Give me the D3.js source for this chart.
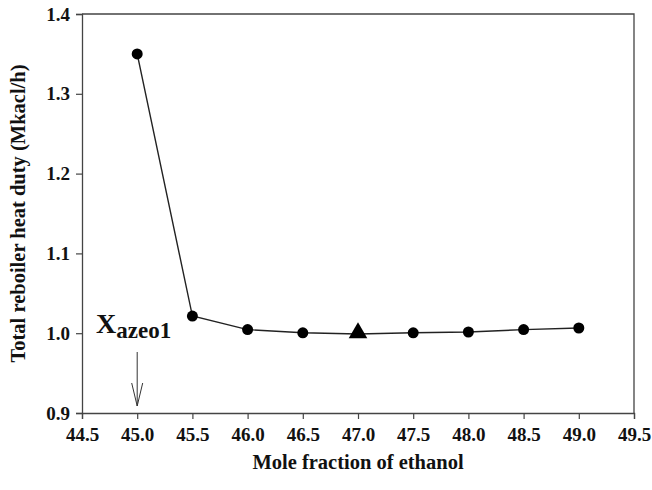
<!DOCTYPE html>
<html>
<head>
<meta charset="utf-8">
<script src="https://cdn.jsdelivr.net/npm/d3@7"></script>
<style>
  html, body { margin: 0; padding: 0; background: #fff; }
  svg text { font-family: "Liberation Serif", "Times New Roman", serif; font-weight: bold; fill: #111; }
</style>
</head>
<body>
<svg id="chart" width="652" height="490"></svg>
<script>
// Mole fraction of ethanol (%) and total reboiler heat duty (Mkcal/h)
const moleFraction = [45.0, 45.5, 46.0, 46.5, 47.0, 47.5, 48.0, 48.5, 49.0];
const heatDuty     = [1.35, 1.0215, 1.0045, 1.0005, 0.999, 1.0005, 1.0015, 1.0045, 1.0065];
// index of the optimum point, drawn as a triangle
const optimumIndex = 4;

const xTicks = [44.5, 45.0, 45.5, 46.0, 46.5, 47.0, 47.5, 48.0, 48.5, 49.0, 49.5];
const yTicks = [0.9, 1.0, 1.1, 1.2, 1.3, 1.4];
const xDomain = [44.5, 49.5];
const yDomain = [0.9, 1.4];
const xTitle = "Mole fraction of ethanol";
const yTitle = "Total reboiler heat duty (Mkacl/h)";
const azeoX = 45.0;

const svg = d3.select("#chart");
const m = { left: 82, right: 18, top: 14, bottom: 77 };
const W = 652, H = 490;
const iw = W - m.left - m.right, ih = H - m.top - m.bottom;

const x = d3.scaleLinear().domain(xDomain).range([m.left, m.left + iw]);
const y = d3.scaleLinear().domain(yDomain).range([m.top + ih, m.top]);

const ink = "#222";
const serif = "'Liberation Serif', 'Times New Roman', serif";

// frame (top and right edges)
svg.append("path")
  .attr("d", `M${m.left},${m.top}H${m.left + iw}V${m.top + ih}`)
  .attr("fill", "none").attr("stroke", "#444").attr("stroke-width", 1.3);

// axes
const xAxis = svg.append("g")
  .attr("transform", `translate(0,${m.top + ih})`)
  .call(d3.axisBottom(x).tickValues(xTicks).tickFormat(d3.format(".1f")).tickSize(6).tickPadding(9));
const yAxis = svg.append("g")
  .attr("transform", `translate(${m.left},0)`)
  .call(d3.axisLeft(y).tickValues(yTicks).tickFormat(d3.format(".1f")).tickSize(6).tickPadding(6));

[xAxis, yAxis].forEach(g => {
  g.attr("font-family", serif).attr("font-size", 19).attr("font-weight", "bold");
  g.select(".domain").attr("stroke", "#444").attr("stroke-width", 1.3);
  g.selectAll(".tick line").attr("stroke", "#444").attr("stroke-width", 1.2);
  g.selectAll(".tick text").attr("fill", "#111");
});

// axis titles
svg.append("text")
  .attr("x", m.left + iw / 2).attr("y", 469)
  .attr("text-anchor", "middle").style("font-size", "20.5px")
  .text(xTitle);
svg.append("text")
  .attr("transform", `translate(25,${m.top + ih / 2}) rotate(-90)`)
  .attr("text-anchor", "middle").style("font-size", "20.5px")
  .text(yTitle);

// data line
const pts = moleFraction.map((v, i) => [v, heatDuty[i]]);
svg.append("path")
  .datum(pts)
  .attr("d", d3.line().x(d => x(d[0])).y(d => y(d[1])))
  .attr("fill", "none").attr("stroke", ink).attr("stroke-width", 1.4);

// markers
svg.append("g").selectAll("circle")
  .data(pts.filter((d, i) => i !== optimumIndex))
  .join("circle")
  .attr("cx", d => x(d[0])).attr("cy", d => y(d[1])).attr("r", 5.5)
  .attr("fill", "#000");

svg.append("path")
  .attr("d", d3.symbol().type(d3.symbolTriangle).size(150)())
  .attr("transform", `translate(${x(pts[optimumIndex][0])},${y(pts[optimumIndex][1]) - 1})`)
  .attr("fill", "#000");

// azeotrope annotation
const lbl = svg.append("text").attr("x", 96).attr("y", 333);
lbl.append("tspan").style("font-size", "28px").text("X");
lbl.append("tspan").style("font-size", "23px").attr("dy", 5).text("azeo1");

const ax = x(azeoX);
const arrowTop = 352, arrowTip = y(0.9) - 7;
svg.append("path")
  .attr("d", `M${ax},${arrowTop}V${arrowTip}M${ax - 5.5},${arrowTip - 23}L${ax},${arrowTip}L${ax + 5.5},${arrowTip - 23}`)
  .attr("fill", "none").attr("stroke", "#333").attr("stroke-width", 1);
</script>
</body>
</html>
